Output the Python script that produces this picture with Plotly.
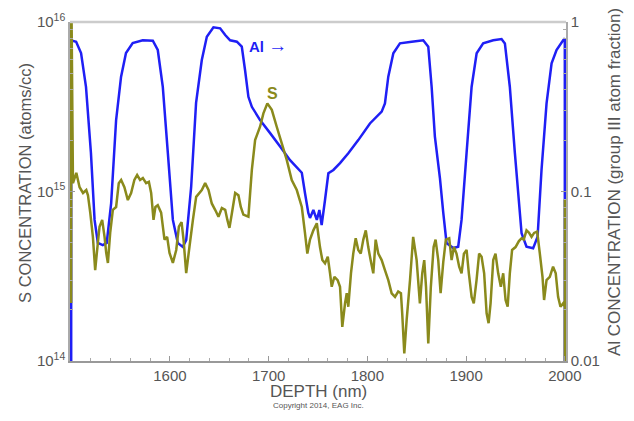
import plotly.graph_objects as go

# ---- Al (group III atom fraction), right axis ----
al_depth = [1500, 1500, 1505, 1510, 1515, 1520, 1523.7, 1527, 1532, 1536, 1540.5, 1545.5, 1550.5,
            1555.5, 1562.3, 1572.5, 1582.7, 1587.7, 1592.8, 1597.9, 1603, 1608, 1613, 1616.5,
            1621.5, 1626.5, 1632.3, 1637.4, 1644.1, 1650.9, 1656, 1661, 1667.8, 1672.8, 1676.1,
            1679.5, 1683, 1691.3, 1701.5, 1711.6, 1721.7, 1733.6, 1736.8, 1740.2, 1741.9, 1745.3,
            1748.8, 1751.4, 1753.7, 1757.1, 1760.5, 1765.6, 1772.3, 1780.7, 1790.8, 1802.6,
            1814.5, 1817.8, 1821.2, 1826.3, 1833, 1844.9, 1856.6, 1861.7, 1865.1, 1868.4, 1873.5,
            1876.9, 1880.2, 1887, 1892, 1895.4, 1900.5, 1905.6, 1910.7, 1917.3, 1927.5, 1935.9,
            1939.3, 1944.3, 1949.4, 1956.2, 1961.2, 1967.9, 1972.4, 1976.4, 1981.5, 1986.6,
            1991.6, 1998.3, 2000, 2000]
al_frac = [0.0005, 0.78, 0.765, 0.656, 0.414, 0.169, 0.068, 0.0497, 0.0483, 0.0497, 0.0855, 0.264,
           0.474, 0.656, 0.752, 0.78, 0.775, 0.684, 0.414, 0.169, 0.068, 0.0497, 0.0471, 0.0517,
           0.106, 0.333, 0.597, 0.819, 0.93, 0.918, 0.838, 0.78, 0.765, 0.715, 0.521, 0.362, 0.316,
           0.264, 0.221, 0.184, 0.153, 0.129, 0.098, 0.0747, 0.0698, 0.0778, 0.068, 0.0778, 0.0634,
           0.0891, 0.128, 0.134, 0.147, 0.168, 0.201, 0.252, 0.296, 0.331, 0.476, 0.654, 0.748,
           0.765, 0.78, 0.715, 0.415, 0.211, 0.120, 0.0747, 0.0497, 0.0464, 0.0472, 0.068, 0.169,
           0.415, 0.654, 0.748, 0.78, 0.794, 0.748, 0.415, 0.169, 0.0567, 0.0472, 0.0462, 0.0541,
           0.134, 0.331, 0.571, 0.684, 0.78, 0.80, 0.0005]

# ---- S concentration (atoms/cc), left axis ----
s_depth = [1500, 1500, 1501.8, 1505.2, 1508.5, 1512, 1515.3, 1517, 1519.3, 1522, 1524.3, 1526,
           1528.7, 1531.4, 1533.8, 1535.5, 1537.2, 1539.5, 1542.2, 1545.5, 1548.2, 1550.6, 1553.9,
           1557.4, 1560.7, 1564, 1566.8, 1569.8, 1572.6, 1575.9, 1578.7, 1581, 1583.4, 1585.3,
           1587.7, 1591.1, 1594.5, 1597.2, 1599.6, 1603, 1606.4, 1609.1, 1611.8, 1613.8, 1616.5,
           1619.8, 1623.3, 1626.6, 1632.3, 1635.7, 1639.1, 1642.4, 1645.8, 1649.2, 1652.6, 1656,
           1658.2, 1660.3, 1662.7, 1666.1, 1669.4, 1671.8, 1674.4, 1679.5, 1683, 1686.3, 1691.3,
           1694.7, 1698.7, 1703.2, 1708.2, 1713.3, 1718.4, 1723.4, 1728.5, 1733.6, 1736.8, 1739.2,
           1741.9, 1745.3, 1748.8, 1752, 1754.4, 1757.1, 1759.9, 1762.2, 1763.9, 1766.6, 1769.9,
           1772.3, 1774.6, 1777.4, 1779.1, 1780.7, 1783.4, 1785.7, 1788.2, 1790.8, 1793.3, 1795.9,
           1798.4, 1800.9, 1803.3, 1806, 1808.4, 1811.1, 1814.5, 1817.8, 1821.2, 1824.6, 1828,
           1831.2, 1834, 1835.3, 1837.4, 1839.8, 1843.2, 1846.4, 1849.9, 1853.2, 1855.6, 1857.6,
           1859.4, 1861.7, 1864.3, 1867.1, 1869.1, 1871.8, 1874.2, 1876.9, 1879.5, 1882.9, 1885.3,
           1887.7, 1890.3, 1893, 1895.4, 1897.8, 1900.5, 1902.8, 1905.6, 1907.8, 1910.6, 1913.2,
           1915.7, 1918.3, 1920.8, 1922.8, 1924.8, 1927.5, 1929.8, 1932.5, 1935.2, 1937.6, 1940,
           1942.1, 1944.3, 1946.6, 1950.1, 1953.5, 1956.2, 1958.4, 1961.2, 1963.8, 1966.3, 1968.9,
           1972, 1974.7, 1977.4, 1979, 1981.5, 1984.8, 1988.1, 1990.8, 1993.2, 1995.6, 1998.3,
           2000, 2000, 2000]
s_conc = [2.2e14, 2e16, 1.12e15, 1.29e15, 1.06e15, 9.8e14, 1.02e15, 9.5e14, 7.5e14, 5.4e14, 3.44e14,
          4.34e14, 6.2e14, 6.8e14, 5.4e14, 4.34e14, 3.79e14, 5.7e14, 7.8e14, 8.1e14, 1.12e15,
          1.17e15, 1.06e15, 8.9e14, 9.8e14, 1.17e15, 1.25e15, 1.17e15, 1.2e15, 1.12e15, 1.14e15,
          9.8e14, 6.8e14, 8.1e14, 8.3e14, 7.5e14, 5.2e14, 5.4e14, 4.34e14, 3.79e14, 4.52e14,
          6.2e14, 6.6e14, 5.2e14, 3.3e14, 4.72e14, 6.8e14, 9.3e14, 1.02e15, 1.12e15, 1.02e15,
          8.5e14, 7.8e14, 7.1e14, 8.0e14, 7.8e14, 6.8e14, 6.1e14, 7.4e14, 9.8e14, 9.5e14, 8.1e14,
          7.3e14, 7.1e14, 1.34e15, 2.01e15, 2.41e15, 2.89e15, 3.31e15, 3.03e15, 2.41e15, 1.92e15,
          1.53e15, 1.17e15, 1.02e15, 8.1e14, 5.7e14, 4.3e14, 5.2e14, 5.9e14, 6.5e14, 4.7e14,
          3.94e14, 3.77e14, 4.12e14, 3.29e14, 2.74e14, 3.14e14, 3.0e14, 2.74e14, 1.59e14, 2.19e14,
          2.51e14, 2.09e14, 3.29e14, 4.3e14, 5.3e14, 4.52e14, 4.3e14, 5.2e14, 5.9e14, 4.7e14,
          3.94e14, 3.29e14, 5.2e14, 4.3e14, 3.94e14, 3.44e14, 3.0e14, 2.51e14, 2.39e14, 2.57e14,
          2.51e14, 1.91e14, 1.11e14, 1.75e14, 3.0e14, 5.4e14, 3.94e14, 2.19e14, 3.29e14, 3.94e14,
          2.74e14, 1.27e14, 2.74e14, 4.7e14, 5.2e14, 3.94e14, 2.51e14, 3.84e14, 5.2e14, 5.3e14,
          3.94e14, 4.7e14, 4.3e14, 3.6e14, 3.29e14, 4.3e14, 4.52e14, 3.29e14, 2.39e14, 2.19e14,
          3.0e14, 4.3e14, 4.12e14, 3.29e14, 1.91e14, 1.67e14, 2.19e14, 3.94e14, 4.3e14, 3.29e14,
          2.74e14, 3.29e14, 2.29e14, 2.09e14, 3.29e14, 4.52e14, 4.7e14, 5.1e14, 5.3e14, 5.2e14,
          5.9e14, 5.7e14, 5.4e14, 5.7e14, 5.8e14, 4.3e14, 3.14e14, 2.29e14, 3.0e14, 3.14e14,
          3.6e14, 3.29e14, 2.39e14, 2.09e14, 2.19e14, 2.09e14, 9e14, 5e13]

x_ticks = [1600, 1700, 1800, 1900, 2000]
x_minor = [1520, 1540, 1560, 1580, 1620, 1640, 1660, 1680, 1720, 1740, 1760, 1780,
           1820, 1840, 1860, 1880, 1920, 1940, 1960, 1980]
s_ticks = [1e14, 1e15, 1e16]
s_ticktext = ["10<sup>14</sup>", "10<sup>15</sup>", "10<sup>16</sup>"]
s_minor = [m * 10 ** e for e in (14, 15) for m in range(2, 10)]
al_ticks = [0.01, 0.1, 1]
al_ticktext = ["0.01", "0.1", "1"]
al_minor = [m * 10 ** e for e in (-2, -1) for m in range(2, 10)]

BLUE = "#1f1ff5"
OLIVE = "#8a8a1c"
GRAY = "#555555"
FONT = "Liberation Sans, Arial, sans-serif"

fig = go.Figure()
fig.add_trace(go.Scatter(x=al_depth, y=al_frac, yaxis="y", mode="lines",
                         line=dict(color=BLUE, width=2.5, simplify=False),
                         showlegend=False))
fig.add_trace(go.Scatter(x=s_depth, y=s_conc, yaxis="y2", mode="lines",
                         line=dict(color=OLIVE, width=2.5, simplify=False), showlegend=False))

fig.update_layout(
    width=634, height=421,
    margin=dict(l=70, r=68, t=22, b=60),
    paper_bgcolor="white", plot_bgcolor="white",
    font=dict(family=FONT, size=15, color=GRAY),
    xaxis=dict(range=[1498.8, 2001.2], tickvals=x_ticks, ticks="inside", ticklen=5,
               tickcolor="#999", showline=True, linecolor="#999", linewidth=1.5,
               showgrid=False, zeroline=False,
               tickfont=dict(size=15, color=GRAY),
               minor=dict(tickvals=x_minor, ticks="inside", ticklen=3, tickcolor="#aaa")),
    yaxis=dict(type="log", range=[-2, 0], side="right", tickvals=al_ticks,
               ticktext=al_ticktext, ticks="inside", ticklen=5, tickcolor="#999",
               showline=True, linecolor="#aaa", linewidth=1.5, showgrid=False, zeroline=False,
               tickfont=dict(size=15, color=GRAY),
               minor=dict(tickvals=al_minor, ticks="inside", ticklen=3, tickcolor="#aaa")),
    yaxis2=dict(type="log", range=[14, 16], side="left", overlaying="y", tickvals=s_ticks,
                ticktext=s_ticktext, ticks="inside", ticklen=5, tickcolor="#999",
                showline=True, linecolor="#aaa", linewidth=1.5, showgrid=False, zeroline=False,
                tickfont=dict(size=15, color=GRAY),
                minor=dict(tickvals=s_minor, ticks="inside", ticklen=3, tickcolor="#aaa")),
    shapes=[dict(type="line", xref="paper", yref="paper", x0=0, x1=1, y0=1, y1=1,
                 line=dict(color="#cccccc", width=2.5))],
    annotations=[
        dict(text="<b>Al</b> <span style='font-size:19px'>→</span>", x=0.356, y=0.93,
             xref="paper", yref="paper", xanchor="left", yanchor="middle", showarrow=False,
             font=dict(size=15, color=BLUE)),
        dict(text="<b>S</b>", x=0.408, y=0.788, xref="paper", yref="paper",
             xanchor="center", yanchor="middle", showarrow=False,
             font=dict(size=16, color=OLIVE)),
        dict(text="S CONCENTRATION (atoms/cc)", x=-0.091, y=0.525, xref="paper", yref="paper",
             textangle=-90, xanchor="center", yanchor="middle", showarrow=False,
             font=dict(size=16.5, color=GRAY)),
        dict(text="Al CONCENTRATION (group III atom fraction)", x=1.097, y=0.528,
             xref="paper", yref="paper", textangle=-90, xanchor="center", yanchor="middle",
             showarrow=False, font=dict(size=17, color=GRAY)),
        dict(text="DEPTH (nm)", x=0.5, y=-0.09, xref="paper", yref="paper",
             xanchor="center", yanchor="middle", showarrow=False,
             font=dict(size=17, color=GRAY)),
        dict(text="Copyright 2014, EAG Inc.", x=0.5, y=-0.13, xref="paper", yref="paper",
             xanchor="center", yanchor="middle", showarrow=False,
             font=dict(size=8, color=GRAY)),
    ],
)

fig.write_html("out.html")
